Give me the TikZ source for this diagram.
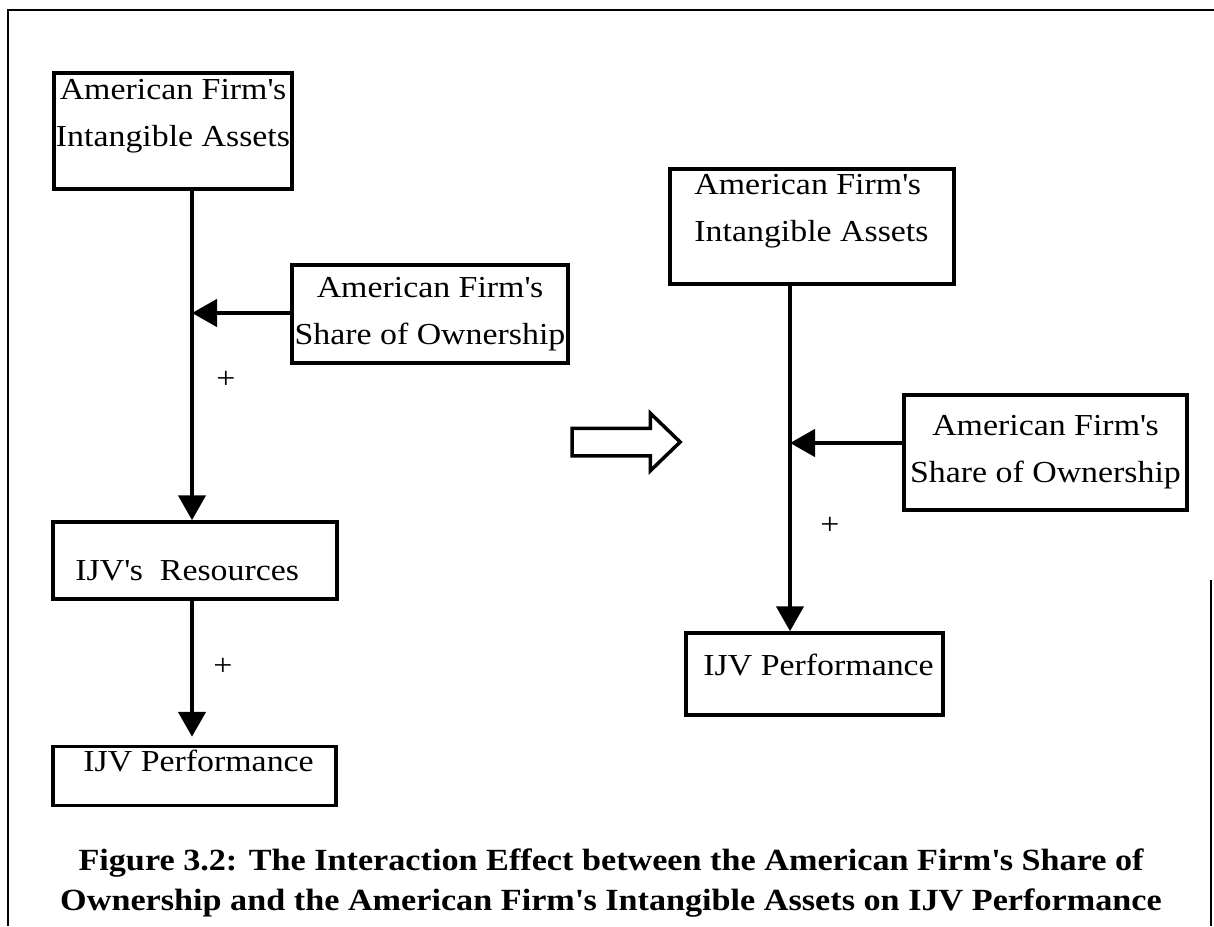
\documentclass[tikz,border=0pt]{standalone}
\usepackage{fontspec}
\setmainfont{Liberation Serif}[FakeStretch=1.11]
\usetikzlibrary{arrows.meta, positioning, shapes.arrows}
\newcommand{\boxfont}{\fontsize{30.5}{47}\selectfont}
\newcommand{\capfont}{\fontsize{30.8}{40}\selectfont\bfseries}
\newcommand{\apos}{\textquotesingle}
\tikzset{factor/.style={draw, line width=3.5pt, inner sep=0pt, align=center}}
\tikzset{boxtext/.style={inner sep=0pt, align=left}}
\tikzset{link/.style={line width=4.5pt, -{Triangle[length=25pt, width=27pt]}}}
\tikzset{sign/.style={inner sep=0pt}}
\tikzset{frame/.style={line width=2.5pt}}
\tikzset{shift arrow/.style={draw, single arrow, line width=3.5pt, inner xsep=0pt, inner ysep=12pt, single arrow head extend=15pt, single arrow tip angle=88, minimum height=108pt}}

\begin{document}
\begin{tikzpicture}[x=1pt, y=-1pt, font=\boxfont]
\useasboundingbox (0,0) rectangle (1214,926);
\draw[frame] (1214,10) -- (8,10) -- (8,926);
\draw[frame] (1211,580) -- (1211,926);

% left: effect through the IJV's resources
\node[factor, minimum width=238pt, minimum height=116pt] (assets_l) at (173,131) {};
\node[boxtext, align=center, below=8pt of assets_l.north] (assets_l_text) {American Firm\apos s\\Intangible Assets};
\node[factor, minimum width=276pt, minimum height=98pt] (share_l) at (430,314) {American Firm\apos s\\Share of Ownership};
\node[factor, minimum width=284pt, minimum height=77pt] (resources) at (195,560.5) {};
\node[boxtext, anchor=base west] (resources_text) at ([shift={(24,60)}]resources.north west) {IJV\apos s\ \ Resources};
\node[factor, minimum width=283pt, minimum height=59pt] (perf_l) at (194.5,776) {};
\node[boxtext, anchor=base west] (perf_l_text) at ([shift={(32,27)}]perf_l.north west) {IJV Performance};
\coordinate (p1) at (192,313);

\draw[link] (assets_l.south -| p1) -- (p1 |- resources.north);
\draw[link] (share_l.west |- p1) -- (p1);
\draw[link, shorten >=8pt] (resources.south -| p1) -- (p1 |- perf_l.north);
\node[sign] (plus_1) at (226,380) {+};
\node[sign] (plus_2) at (223,667) {+};

\node[shift arrow] (shift_arrow) at (619,442) {};

% right: direct effect
\node[factor, minimum width=284pt, minimum height=115pt] (assets_r) at (812,226.5) {};
\node[boxtext, anchor=north west] (assets_r_text) at ([shift={(26,7)}]assets_r.north west) {American Firm\apos s\\Intangible Assets};
\node[factor, minimum width=283pt, minimum height=115pt] (share_r) at (1045.5,452.5) {American Firm\apos s\\Share of Ownership};
\node[factor, minimum width=257pt, minimum height=82pt] (perf_r) at (814.5,674) {};
\node[boxtext, anchor=base west] (perf_r_text) at ([shift={(19,44)}]perf_r.north west) {IJV Performance};
\coordinate (p2) at (790,443);

\draw[link] (assets_r.south -| p2) -- (p2 |- perf_r.north);
\draw[link] (share_r.west |- p2) -- (p2);
\node[sign] (plus_3) at (830,526) {+};

\node[font=\capfont, align=center, inner sep=0pt, anchor=north] (caption) at (611,849) {Figure 3.2: The Interaction Effect between the American Firm\apos s Share of\\Ownership and the American Firm\apos s Intangible Assets on IJV Performance};
\end{tikzpicture}
\end{document}
